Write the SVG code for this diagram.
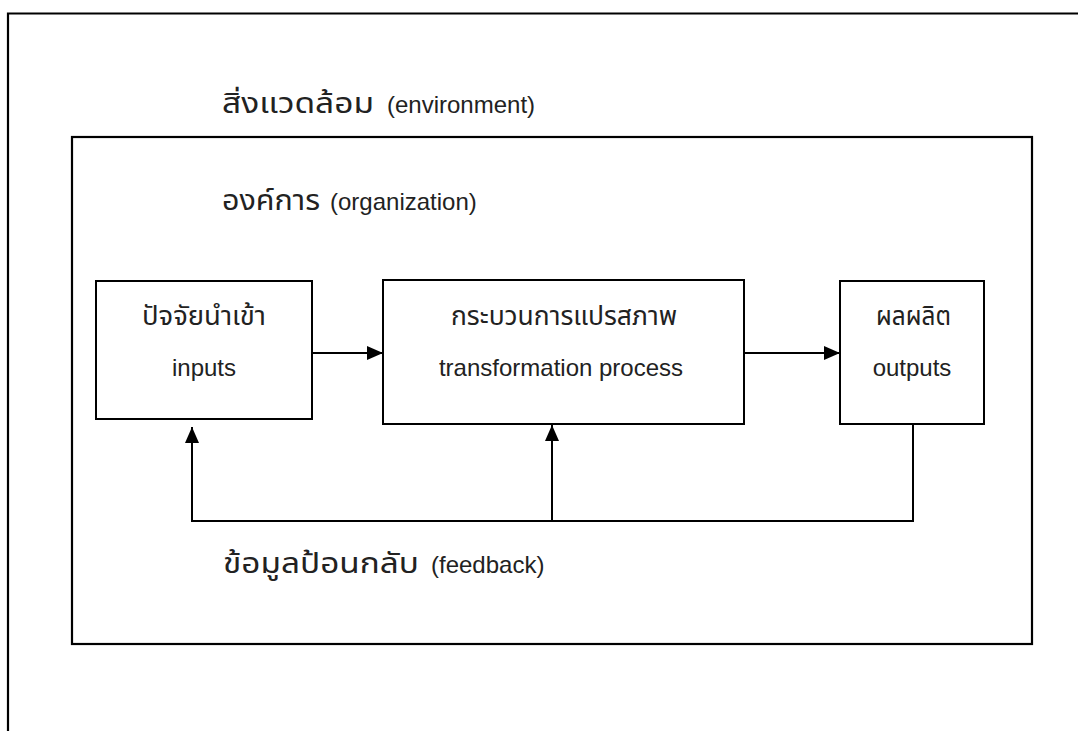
<svg xmlns="http://www.w3.org/2000/svg" width="1078" height="731" viewBox="0 0 1078 731">
  <defs>
    <marker id="arrow" viewBox="0 0 16 14" refX="16" refY="7" markerWidth="16" markerHeight="14" markerUnits="userSpaceOnUse" orient="auto">
      <path d="M0,0 L16,7 L0,14 Z" fill="#000"/>
    </marker>
    <style>
      .frame { fill: none; stroke: #000; stroke-width: 2.2; }
      .box { fill: #fff; stroke: #000; stroke-width: 2; }
      .link { fill: none; stroke: #000; stroke-width: 2; }
      .label { font-family: "Liberation Sans", "Noto Sans Thai", "Loma", "Garuda", "Norasi", "DejaVu Sans", sans-serif; font-size: 24px; fill: #222; }
      .th { font-size: 27px; }
      .th-lg { font-size: 28px; }
    </style>
  </defs>
  <rect width="1078" height="731" fill="#fff"/>

  <!-- environment boundary (runs off the page) -->
  <g id="environment">
    <path class="frame" d="M8,731 V13.5 H1078"/>
    <text class="label" y="113"><tspan class="th-lg" x="222" textLength="152" lengthAdjust="spacingAndGlyphs">สิ่งแวดล้อม</tspan><tspan x="387">(environment)</tspan></text>
  </g>

  <!-- organization boundary -->
  <g id="organization">
    <rect class="frame" x="72" y="137" width="960" height="507"/>
    <text class="label" y="210"><tspan class="th-lg" x="222" textLength="98" lengthAdjust="spacingAndGlyphs">องค์การ</tspan><tspan x="330">(organization)</tspan></text>
  </g>

  <g id="connectors">
    <line class="link" x1="312" y1="353" x2="383" y2="353" marker-end="url(#arrow)"/>
    <line class="link" x1="744" y1="353" x2="840" y2="353" marker-end="url(#arrow)"/>
    <path class="link" d="M913,424 V521 H192 V427" marker-end="url(#arrow)"/>
    <path class="link" d="M552,521 V425" marker-end="url(#arrow)"/>
  </g>

  <g id="inputs">
    <rect class="box" x="96" y="281" width="216" height="138"/>
    <text class="label th" x="142" y="325" textLength="124" lengthAdjust="spacingAndGlyphs">ปัจจัยนำเข้า</text>
    <text class="label" x="204" y="376" text-anchor="middle">inputs</text>
  </g>

  <g id="transformation">
    <rect class="box" x="383" y="280" width="361" height="144"/>
    <text class="label th" x="451" y="325" textLength="226" lengthAdjust="spacingAndGlyphs">กระบวนการแปรสภาพ</text>
    <text class="label" x="561" y="376" text-anchor="middle">transformation process</text>
  </g>

  <g id="outputs">
    <rect class="box" x="840" y="281" width="144" height="143"/>
    <text class="label th" x="876" y="325" textLength="75" lengthAdjust="spacingAndGlyphs">ผลผลิต</text>
    <text class="label" x="912" y="376" text-anchor="middle">outputs</text>
  </g>

  <g id="feedback">
    <text class="label" y="573"><tspan class="th-lg" x="223" textLength="196" lengthAdjust="spacingAndGlyphs">ข้อมูลป้อนกลับ</tspan><tspan x="431">(feedback)</tspan></text>
  </g>
</svg>
